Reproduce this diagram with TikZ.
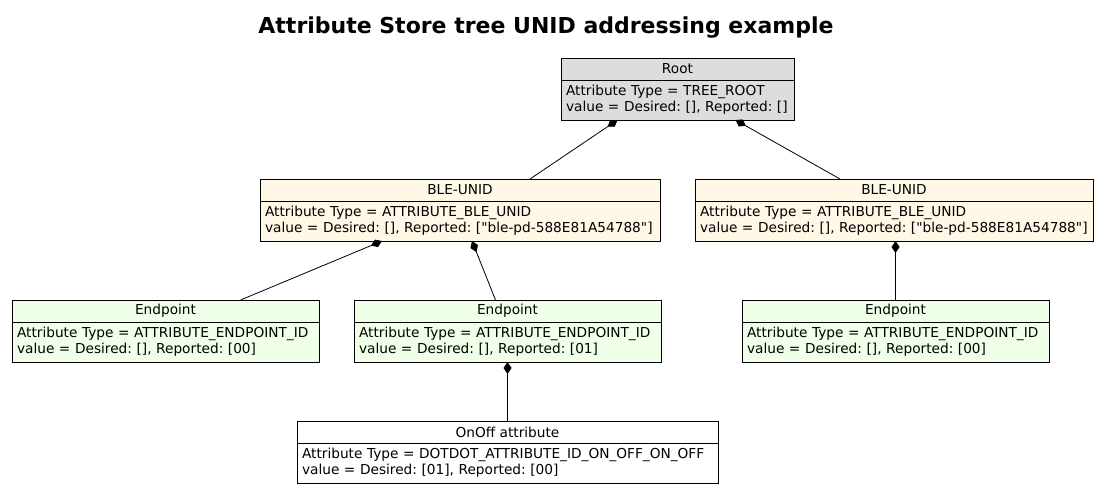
\documentclass[tikz,border=0pt]{standalone}
\usepackage{fontspec}
\setmainfont{DejaVu Sans}[Ligatures=TeXOff]
\usepackage{tikz}
\usetikzlibrary{arrows.meta,positioning}
\usepackage{xcolor}
\definecolor{rootgray}{RGB}{221,221,221}
\definecolor{blecream}{RGB}{255,248,231}
\definecolor{epgreen}{RGB}{240,255,232}
\definecolor{lineblack}{RGB}{0,0,0}

\begin{document}
\frenchspacing
\begin{tikzpicture}[
  x=1pt, y=-1pt,
  hdr/.style={rectangle, draw=lineblack, line width=0.9pt, minimum height=22pt, inner sep=0pt, outer sep=0pt, anchor=north west, font=\fontsize{13.7}{16}\selectfont},
  val/.style={rectangle, draw=lineblack, line width=0.9pt, minimum height=40pt, inner xsep=5pt, inner ysep=0pt, outer sep=0pt, align=left, anchor=north west, font=\fontsize{13.7}{16}\selectfont},
  comp/.style={-{Diamond[length=12pt,width=8pt]}, line width=0.8pt}
]
\useasboundingbox (0,0) rectangle (1101,488);

\node[font=\fontsize{22}{26}\selectfont\bfseries] (title) at (546,28) {Attribute Store tree UNID addressing example};

% root
\node[hdr, fill=rootgray, minimum width=233pt] (root) at (561,58) {Root};
\node[val, fill=rootgray, text width=223pt] (rootval) at (root.south west) {Attribute Type = TREE\_ROOT\\value = Desired: [], Reported: []};

% BLE-UNID objects
\node[hdr, fill=blecream, minimum width=400pt] (bleL) at (260,179) {BLE-UNID};
\node[val, fill=blecream, text width=390pt] (bleLval) at (bleL.south west) {Attribute Type = ATTRIBUTE\_BLE\_UNID\\value = Desired: [], Reported: ["ble-pd-588E81A54788"]};
\node[hdr, fill=blecream, minimum width=398pt] (bleR) at (695,179) {BLE-UNID};
\node[val, fill=blecream, text width=388pt] (bleRval) at (bleR.south west) {Attribute Type = ATTRIBUTE\_BLE\_UNID\\value = Desired: [], Reported: ["ble-pd-588E81A54788"]};

% endpoints
\node[hdr, fill=epgreen, minimum width=307pt] (ep1) at (12,300) {Endpoint};
\node[val, fill=epgreen, text width=297pt] (ep1val) at (ep1.south west) {Attribute Type = ATTRIBUTE\_ENDPOINT\_ID\\value = Desired: [], Reported: [00]};
\node[hdr, fill=epgreen, minimum width=307pt] (ep2) at (354,300) {Endpoint};
\node[val, fill=epgreen, text width=297pt] (ep2val) at (ep2.south west) {Attribute Type = ATTRIBUTE\_ENDPOINT\_ID\\value = Desired: [], Reported: [01]};
\node[hdr, fill=epgreen, minimum width=307pt] (ep3) at (742,300) {Endpoint};
\node[val, fill=epgreen, text width=297pt] (ep3val) at (ep3.south west) {Attribute Type = ATTRIBUTE\_ENDPOINT\_ID\\value = Desired: [], Reported: [00]};

% attribute
\node[hdr, fill=white, minimum width=421pt] (onoff) at (297,421) {OnOff attribute};
\node[val, fill=white, text width=411pt] (onoffval) at (onoff.south west) {Attribute Type = DOTDOT\_ATTRIBUTE\_ID\_ON\_OFF\_ON\_OFF\\value = Desired: [01], Reported: [00]};

\draw[comp] ([xshift=70pt]bleL.north) -- ([xshift=-60pt]rootval.south);
\draw[comp] ([xshift=-54pt]bleR.north) -- ([xshift=58pt]rootval.south);
\draw[comp] ([xshift=75pt]ep1.north) -- ([xshift=-78pt]bleLval.south);
\draw[comp] ([xshift=-12pt]ep2.north) -- ([xshift=12pt]bleLval.south);
\draw[comp] (ep3.north) -- (ep3.north |- bleRval.south);
\draw[comp] (onoff.north) -- (ep2val.south);
\end{tikzpicture}
\end{document}
